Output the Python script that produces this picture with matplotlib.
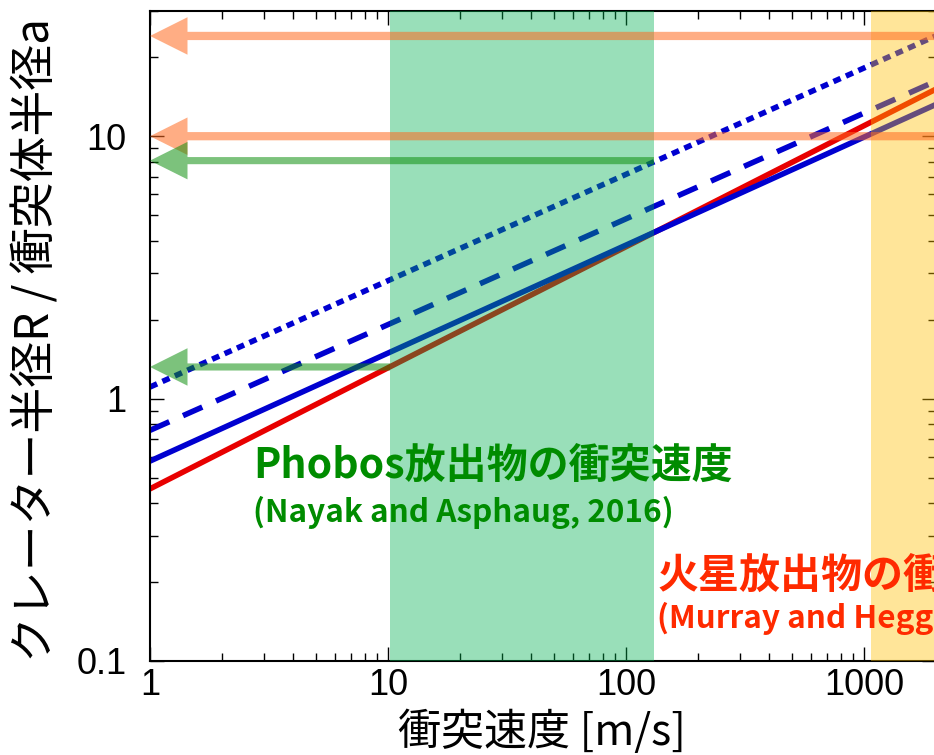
import matplotlib
matplotlib.use("Agg")
import matplotlib.pyplot as plt
from matplotlib.ticker import LogLocator, NullFormatter, FixedFormatter, FixedLocator

JP = ['Noto Sans CJK JP', 'DejaVu Sans']

# impact velocity end points [m/s] and crater/impactor radius ratios
v_ends = [1, 2000]
ratio_blue_solid = [0.578, 13.2]
ratio_red = [0.453, 15.1]
ratio_blue_dashed = [0.757, 16.2]
ratio_blue_dotted = [1.107, 24.1]

# velocity ranges of ejecta
phobos_range = [10.2, 131]
mars_range = [1070, 2000]

# arrows pointing to the y axis: (start velocity, ratio)
orange_arrows = [(2000, 24.1), (2000, 10.0)]
green_arrows = [(131, 8.07), (10.2, 1.32)]

x_ticks = [1, 10, 100, 1000]
x_tick_labels = ['1', '10', '100', '1000']
y_ticks = [0.1, 1, 10]
y_tick_labels = ['0.1', '1', '10']

fig = plt.figure(figsize=(9.34, 7.55), dpi=100)
ax = fig.add_axes([150 / 934, 94 / 755, 785.7 / 934, 650 / 755])
ax.set_xscale('log')
ax.set_yscale('log')
ax.set_xlim(1, 2000)
ax.set_ylim(0.1, 30)

lw = 4.0
ax.plot(v_ends, ratio_red, color='#E80000', lw=lw, zorder=2)
ax.plot(v_ends, ratio_blue_solid, color='#0000D0', lw=lw, zorder=2.1)
ax.plot(v_ends, ratio_blue_dashed, color='#0000D0', lw=lw, dashes=(3.8, 2.7), zorder=2)
ax.plot(v_ends, ratio_blue_dotted, color='#0000D0', lw=lw, dashes=(1.4, 1.05), zorder=2)

ax.axvspan(*phobos_range, color='#00B050', alpha=0.4, lw=0, zorder=3)
ax.axvspan(*mars_range, color='#FFC000', alpha=0.4, lw=0, zorder=3)

def arrow(x0, y, color, tail):
    ax.annotate('', xy=(1, y), xytext=(x0, y), xycoords='data',
                annotation_clip=False, zorder=4,
                arrowprops=dict(arrowstyle=f'simple,head_length=1,head_width=1,tail_width={tail}',
                                mutation_scale=27, color=color, alpha=0.55, lw=0,
                                shrinkA=0, shrinkB=0))

for x0, y in orange_arrows:
    arrow(x0, y, '#FF6A20', 0.22)
for x0, y in green_arrows:
    arrow(x0, y, '#109010', 0.19)

# ticks
ax.tick_params(which='both', direction='in', top=True, right=True)
ax.tick_params(which='major', length=10, width=1.0)
ax.tick_params(which='minor', length=5.5, width=1.0)
ax.tick_params(axis='x', which='major', pad=5)
ax.tick_params(axis='y', which='major', pad=17)
ax.xaxis.set_major_locator(FixedLocator(x_ticks))
ax.xaxis.set_major_formatter(FixedFormatter(x_tick_labels))
ax.yaxis.set_major_locator(FixedLocator(y_ticks))
ax.yaxis.set_major_formatter(FixedFormatter(y_tick_labels))
for axis in (ax.xaxis, ax.yaxis):
    axis.set_minor_locator(LogLocator(base=10, subs=range(2, 10), numticks=20))
    axis.set_minor_formatter(NullFormatter())
for lab in ax.get_xticklabels() + ax.get_yticklabels():
    lab.set_fontfamily('Liberation Sans')
    lab.set_fontsize(26)
for s in ax.spines.values():
    s.set_linewidth(1.5)
ax.spines['right'].set_visible(False)

ax.set_xlabel('衝突速度 [m/s]', family=JP, fontsize=31)
ax.xaxis.set_label_coords(0.499, -0.111)
ax.xaxis.label.set_va('center')
ax.set_ylabel('クレーター半径R / 衝突体半径a', family=JP, fontsize=33)
ax.yaxis.set_label_coords(-0.145, 0.494)
ax.yaxis.label.set_va('center')

# range captions
ax.text(2.71, 0.556, 'Phobos放出物の衝突速度', family=JP, fontsize=29.5, fontweight='bold',
        color='#008C00', va='center', ha='left', zorder=5)
ax.text(2.71, 0.368, '(Nayak and Asphaug, 2016)', family=JP, fontsize=22.7, fontweight='bold',
        color='#008C00', va='center', ha='left', zorder=5)
ax.text(135, 0.211, '火星放出物の衝突速度', family=JP, fontsize=29.5, fontweight='bold',
        color='#FF2A00', va='center', ha='left', zorder=5, clip_on=False)
ax.text(135, 0.145, '(Murray and Heggie, 2014)', family=JP, fontsize=22.7, fontweight='bold',
        color='#FF2A00', va='center', ha='left', zorder=5, clip_on=False)

fig.savefig('out.png', dpi=100)
